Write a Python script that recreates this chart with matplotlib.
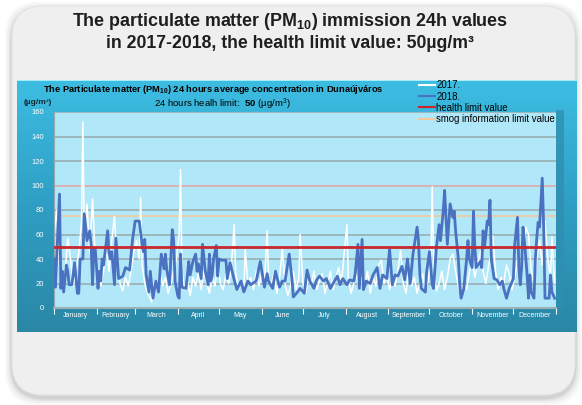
import numpy as np
import matplotlib
matplotlib.use("Agg")
import matplotlib.pyplot as plt
from matplotlib.patches import FancyBboxPatch, Rectangle
from matplotlib.lines import Line2D
from matplotlib.colors import LinearSegmentedColormap

plt.rcParams['font.family'] = ['Liberation Sans', 'DejaVu Sans']
plt.rcParams['mathtext.fontset'] = 'custom'
plt.rcParams['mathtext.rm'] = 'Liberation Sans'
plt.rcParams['mathtext.bf'] = 'Liberation Sans:bold'

# --- data ---
months = ["January", "February", "March", "April", "May", "June", "July",
          "August", "September", "October", "November", "December"]
month_start = [0, 31, 59, 90, 120, 151, 181, 212, 243, 273, 304, 334, 365]

days_2017 = [0, 2, 4, 6, 8, 10, 12, 14, 16, 18, 20, 21, 22, 24, 26, 28, 30, 32, 34, 36,
             38, 40, 42, 44, 46, 48, 50, 52, 54, 56, 58, 60, 62, 63, 64, 66, 68, 70, 71, 73,
             75, 77, 79, 81, 83, 85, 87, 89, 91, 92, 93, 95, 97, 99, 101, 103, 105, 107, 109, 111,
             113, 115, 117, 119, 121, 123, 125, 127, 129, 131, 132, 134, 136, 138, 139, 141, 143, 145, 147, 149,
             151, 153, 155, 156, 158, 160, 162, 164, 166, 168, 170, 172, 174, 176, 178, 179, 181, 183, 185, 187,
             189, 191, 193, 195, 197, 199, 201, 203, 205, 207, 209, 211, 213, 214, 216, 218, 220, 222, 224, 226,
             228, 230, 232, 234, 236, 238, 240, 242, 244, 246, 248, 250, 252, 254, 256, 258, 260, 262, 264, 266,
             268, 270, 272, 274, 275, 276, 278, 280, 282, 284, 286, 288, 290, 292, 294, 296, 298, 300, 302, 304,
             306, 308, 310, 312, 314, 316, 318, 319, 321, 323, 325, 327, 329, 331, 333, 335, 337, 339, 341, 343,
             345, 347, 349, 351, 353, 355, 357, 359, 361, 362, 364]
pm_2017 = [60, 80, 35, 20, 28, 57, 40, 18, 30, 45, 70, 152, 60, 85, 45, 89, 40, 25, 18, 30,
           48, 30, 55, 75, 35, 20, 14, 25, 18, 30, 45, 55, 40, 90, 35, 20, 12, 8, 5, 22,
           15, 30, 18, 25, 12, 20, 30, 40, 60, 113, 30, 15, 22, 10, 25, 18, 28, 15, 30, 20,
           12, 25, 18, 35, 20, 15, 28, 20, 35, 68, 30, 15, 22, 12, 48, 20, 25, 15, 30, 18,
           28, 20, 63, 25, 18, 30, 12, 25, 48, 20, 10, 18, 30, 15, 25, 60, 20, 12, 25, 18,
           30, 15, 22, 28, 12, 20, 30, 15, 25, 33, 20, 45, 68, 25, 12, 20, 28, 15, 25, 18,
           30, 12, 25, 18, 35, 39, 20, 28, 15, 25, 18, 30, 47, 20, 12, 33, 18, 25, 12, 20,
           28, 15, 22, 40, 99, 35, 14, 20, 30, 15, 25, 40, 44, 30, 18, 10, 20, 15, 30, 38,
           25, 35, 46, 30, 20, 35, 45, 59, 30, 15, 25, 20, 35, 28, 15, 25, 40, 30, 45, 66,
           60, 30, 20, 40, 55, 35, 71, 40, 25, 58, 20]

days_2018 = [0, 1, 4, 5, 6, 7, 9, 10, 11, 13, 15, 17, 18, 19, 21, 22, 24, 26, 27, 28,
             29, 30, 32, 33, 34, 35, 36, 39, 40, 41, 42, 44, 45, 46, 47, 50, 52, 55, 57, 59,
             62, 64, 65, 66, 67, 69, 70, 72, 74, 76, 78, 80, 81, 82, 84, 86, 87, 88, 90, 91,
             92, 93, 96, 98, 99, 101, 103, 104, 105, 107, 108, 110, 112, 113, 114, 115, 116, 118, 119, 120,
             122, 125, 126, 128, 131, 133, 136, 138, 141, 143, 147, 150, 153, 155, 156, 159, 161, 164, 166, 168,
             171, 173, 174, 177, 179, 182, 184, 186, 189, 191, 193, 196, 198, 201, 203, 206, 208, 210, 213, 215,
             218, 219, 221, 222, 224, 225, 227, 230, 232, 235, 237, 239, 242, 244, 246, 248, 250, 253, 255, 257,
             259, 261, 264, 265, 266, 267, 270, 271, 273, 275, 276, 278, 280, 281, 283, 284, 286, 287, 288, 290,
             291, 292, 294, 295, 296, 298, 300, 301, 302, 304, 305, 306, 307, 310, 311, 312, 313, 315, 316, 317,
             318, 320, 322, 324, 326, 327, 329, 331, 334, 335, 337, 338, 339, 340, 341, 342, 344, 345, 346, 347,
             349, 350, 351, 352, 353, 355, 356, 357, 360, 361, 362, 364]
pm_2018 = [40, 17, 93, 16, 30, 13, 35, 30, 19, 19, 37, 12, 12, 40, 40, 77, 55, 63, 52, 19,
           49, 48, 16, 30, 22, 40, 35, 63, 45, 40, 46, 19, 57, 40, 24, 26, 33, 31, 55, 71,
           71, 52, 46, 56, 27, 13, 30, 8, 22, 13, 44, 32, 44, 31, 19, 64, 55, 22, 10, 8,
           44, 17, 16, 38, 27, 38, 44, 30, 36, 24, 52, 30, 19, 44, 22, 27, 40, 51, 26, 40,
           39, 39, 24, 37, 23, 15, 22, 13, 22, 19, 22, 38, 17, 28, 22, 16, 30, 17, 22, 22,
           44, 24, 9, 13, 16, 12, 31, 22, 16, 23, 26, 22, 24, 16, 20, 26, 19, 24, 19, 23,
           22, 28, 52, 16, 56, 15, 22, 20, 27, 33, 16, 27, 24, 48, 19, 27, 26, 34, 23, 40,
           20, 44, 66, 55, 28, 16, 13, 30, 46, 19, 16, 49, 68, 55, 79, 96, 52, 68, 85, 74,
           79, 63, 40, 19, 8, 16, 40, 55, 40, 33, 79, 49, 33, 38, 33, 63, 49, 71, 68, 88,
           40, 24, 23, 19, 22, 16, 8, 16, 24, 52, 74, 33, 19, 33, 66, 55, 27, 8, 27, 13,
           8, 40, 57, 70, 66, 106, 68, 8, 8, 27, 13, 8]

health_limit = 50
smog_limit = 75

W, H = 582, 405
fig = plt.figure(figsize=(W / 100, H / 100), dpi=100)
fig.patch.set_facecolor('white')

# background layer in pixel coordinates
bg = fig.add_axes([0, 0, 1, 1])
bg.axis('off')

# soft shadow + rounded grey panel
for grow, a in [(7, 0.04), (5, 0.06), (3, 0.09), (1.5, 0.12)]:
    bg.add_patch(FancyBboxPatch((12 - grow, 6 - grow + 3), 563 + 2 * grow, 389 + 2 * grow,
                                boxstyle='round,pad=0,rounding_size=34',
                                fc='#606060', ec='none', alpha=a))
bg.add_patch(FancyBboxPatch((12, 6), 563, 389, boxstyle='round,pad=0,rounding_size=32',
                            fc='#efefef', ec='#e4e4e4', lw=0.8))

# blue box with gradient
grad = np.linspace(0, 1, 256).reshape(-1, 1)
cmap = LinearSegmentedColormap.from_list('blue_box', ['#3dbde2', '#2f9ec4', '#2a87a5'])
bg.imshow(grad, extent=(17, 577, 332, 80), cmap=cmap, aspect='auto', zorder=2)
bg.add_patch(Rectangle((17, 80), 560, 1.2, fc='#a8ecf8', ec='none', zorder=3))
# darker wall on the right of the plot area
bg.add_patch(Rectangle((556, 110), 8, 200, fc='#2f8fb0', ec='none', alpha=0.8, zorder=3))
bg.set_xlim(0, W)
bg.set_ylim(H, 0)

# titles
bg.text(290, 21, "The particulate matter (PM$_{\\mathbf{10}}$) immission 24h values",
        ha='center', va='center', fontsize=12.9, fontweight='bold', color='#1e1e1e', zorder=4)
bg.text(290, 43, "in 2017-2018, the health limit value: 50µg/m³",
        ha='center', va='center', fontsize=12.7, fontweight='bold', color='#1e1e1e', zorder=4)

bg.text(43, 89, "The Particulate matter (PM$_{\\mathbf{10}}$) 24 hours average concentration in Dunaújváros",
        ha='left', va='center', fontsize=6.7, fontweight='bold', color='black', zorder=4)
bg.text(222, 104, "24 hours healh limit:  $\\mathbf{50}$ (µg/m$^{3}$)",
        ha='center', va='center', fontsize=6.8, color='black', zorder=4)
bg.text(24, 102, "(µg/m³)", ha='left', va='center', fontsize=6, fontweight='bold',
        color='#102a35', zorder=4)

# chart
ax = fig.add_axes([54 / W, (H - 308) / H, (556 - 54) / W, (308 - 112) / H])
ax.set_facecolor('#b0e8fa')
ax.set_xlim(0, 365)
ax.set_ylim(0, 160)
for y in range(20, 161, 20):
    ax.axhline(y, color='#e4a2a2' if y == 100 else '#98a9ae', lw=1.1, zorder=1)
ax.axhline(smog_limit, color='#f4c89c', lw=1.2, zorder=1.5)
ax.plot(days_2017, pm_2017, color='white', lw=1.1, zorder=2)
ax.plot(days_2018, pm_2018, color='#4a72c0', lw=2.0, zorder=3)
ax.axhline(health_limit, color='#c8282c', lw=2, zorder=4)

for s in ['top', 'right']:
    ax.spines[s].set_visible(False)
ax.spines['left'].set_color('#98a9ae')
ax.spines['bottom'].set_color('#9fb0b5')
ax.spines['bottom'].set_linewidth(1.5)

ax.set_yticks(range(0, 161, 20))
ax.tick_params(axis='y', length=0, pad=7, labelsize=5.5, labelcolor='white')
mids = [(month_start[i] + month_start[i + 1]) / 2 for i in range(12)]
ax.set_xticks(mids)
ax.set_xticklabels(months)
ax.tick_params(axis='x', which='major', length=0, pad=3, labelsize=5, labelcolor='white')
ax.set_xticks(month_start, minor=True)
ax.tick_params(axis='x', which='minor', length=4, width=0.8, color='white', direction='out')

handles = [Line2D([], [], color='white', lw=1.5),
           Line2D([], [], color='#4a72c0', lw=1.5),
           Line2D([], [], color='#c8282c', lw=1.5),
           Line2D([], [], color='#f4c89c', lw=1.5)]
labels = ["2017.", "2018.", "health limit value", "smog information limit value"]
fig.legend(handles, labels, loc='upper left', bbox_to_anchor=(419 / W, 1 - 80.5 / H),
           frameon=False, fontsize=6.9, handlelength=1.7, handletextpad=0.1,
           labelspacing=0.12, borderpad=0, borderaxespad=0)

fig.savefig('out.png', dpi=100, facecolor='white')
